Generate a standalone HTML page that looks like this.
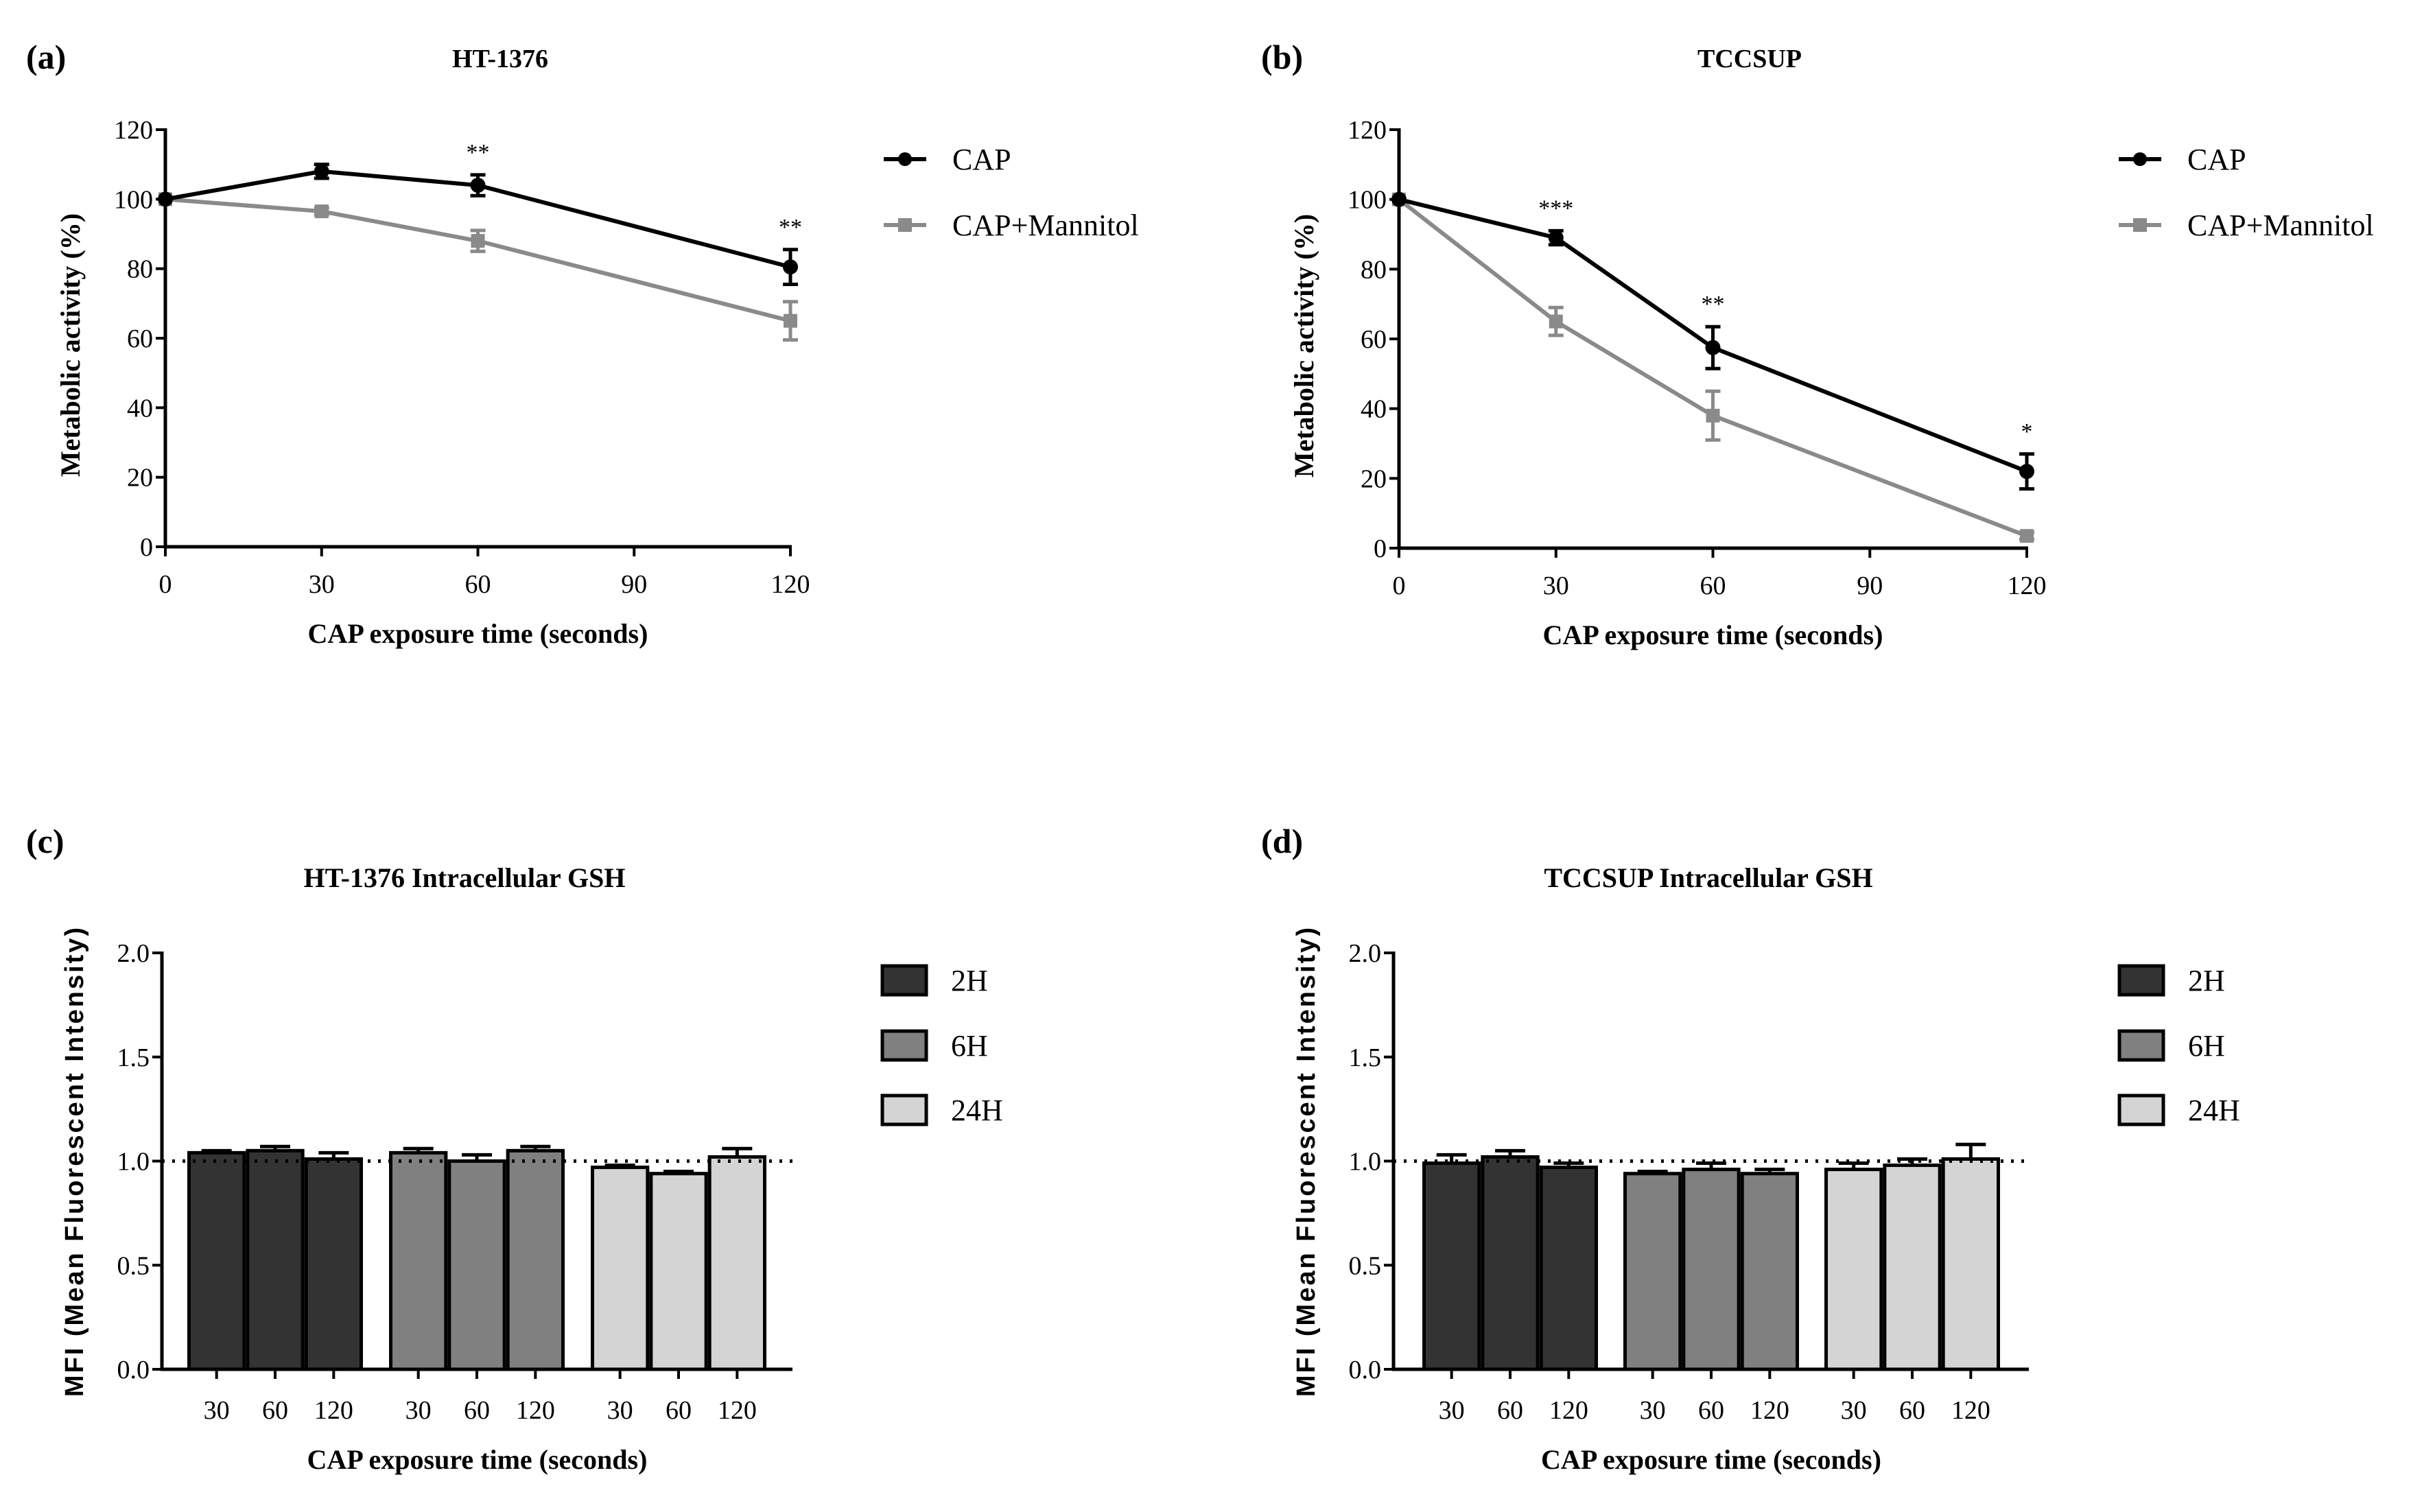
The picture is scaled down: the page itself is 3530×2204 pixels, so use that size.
<!DOCTYPE html>
<html><head><meta charset="utf-8"><style>
html,body{margin:0;padding:0;background:#fff}
svg{display:block}
text{font-family:"Liberation Serif",serif;fill:#000}
.sans{font-family:"Liberation Sans",sans-serif}
</style></head><body>
<svg id="fig" width="3530" height="2204" viewBox="0 0 3530 2204" xmlns="http://www.w3.org/2000/svg"></svg>
<script>
// ---- Line chart data ----
const lineX = [0, 30, 60, 120];
const xTicks = [0, 30, 60, 90, 120];
const yTicksLine = [0, 20, 40, 60, 80, 100, 120];
const aCap = [100, 108, 104, 80.5];
const aCapErr = [0, 2, 3, 5];
const aMan = [100, 96.5, 88, 65];
const aManErr = [0, 1, 3, 5.5];
const aStars = ["", "", "**", "**"];
const bCap = [100, 89, 57.5, 22];
const bCapErr = [0, 2, 6, 5];
const bMan = [100, 65, 38, 3.5];
const bManErr = [0, 4, 7, 1];
const bStars = ["", "***", "**", "*"];
// ---- Bar chart data ----
const barGroups = ["2H", "6H", "24H"];
const barCats = ["30", "60", "120"];
const yTicksBar = [0, 0.5, 1.0, 1.5, 2.0];
const c2H = [1.04, 1.05, 1.01], c2HErr = [0.01, 0.02, 0.03];
const c6H = [1.04, 1.00, 1.05], c6HErr = [0.02, 0.03, 0.02];
const c24H = [0.97, 0.94, 1.02], c24HErr = [0.01, 0.01, 0.04];
const d2H = [0.99, 1.02, 0.97], d2HErr = [0.04, 0.03, 0.02];
const d6H = [0.94, 0.96, 0.94], d6HErr = [0.01, 0.03, 0.02];
const d24H = [0.96, 0.98, 1.01], d24HErr = [0.03, 0.03, 0.07];

const NS = "http://www.w3.org/2000/svg";
const svg = document.getElementById("fig");
function el(tag, attrs, parent, txt) {
  const e = document.createElementNS(NS, tag);
  for (const k in attrs) e.setAttribute(k, attrs[k]);
  if (txt !== undefined) e.textContent = txt;
  (parent || svg).appendChild(e);
  return e;
}

function lineChart(o) {
  const g = el("g", {});
  
  
  const X = v => o.x0 + (v - 0) / 120 * (o.x1 - o.x0);
  const Y = v => o.y0 - v / 120 * (o.y0 - o.y1);
  let t = el("text", {x: o.labX, y: 100, "font-size": 50, "font-weight": "bold"}, g, o.letter);
  
  
  t = el("text", {x: o.titleX, y: 98, "font-size": 38, "font-weight": "bold", "text-anchor": "middle"}, g, o.title);
  
  
  // axes
  el("line", {x1: o.x0, y1: o.y0, x2: o.x0, y2: o.y1 - 2, stroke: "#000", "stroke-width": 5}, g);
  el("line", {x1: o.x0 - 2, y1: o.y0, x2: o.x1 + 2, y2: o.y0, stroke: "#000", "stroke-width": 5}, g);
  yTicksLine.forEach(v => {
    el("line", {x1: o.x0 - 14, y1: Y(v), x2: o.x0, y2: Y(v), stroke: "#000", "stroke-width": 4}, g);
    const tt = el("text", {x: o.x0 - 18, y: Y(v) + 13, "font-size": 38, "text-anchor": "end"}, g, v);
    
    
  });
  xTicks.forEach(v => {
    el("line", {x1: X(v), y1: o.y0, x2: X(v), y2: o.y0 + 14, stroke: "#000", "stroke-width": 4}, g);
    const tt = el("text", {x: X(v), y: o.y0 + 67, "font-size": 38, "text-anchor": "middle"}, g, v);
    
    
  });
  t = el("text", {x: (o.x0 + o.x1) / 2, y: o.y0 + 140, "font-size": 40, "font-weight": "bold", "text-anchor": "middle"}, g, "CAP exposure time (seconds)");
  
  
  t = el("text", {x: 0, y: 0, "font-size": 40, "font-weight": "bold", "text-anchor": "middle", transform: `translate(${o.x0 - 125},${(o.y0 + o.y1) / 2 + 10}) rotate(-90)`}, g, "Metabolic activity (%)");
  
  
  const series = [
    {v: o.man, e: o.manErr, c: "#8a8a8a", sq: true, n: "series-cap-mannitol"},
    {v: o.cap, e: o.capErr, c: "#000", sq: false, n: "series-cap"}
  ];
  series.forEach(s => {
    const sg = el("g", {}, g);
    
    
    el("polyline", {points: lineX.map((x, i) => X(x) + "," + Y(s.v[i])).join(" "), fill: "none", stroke: s.c, "stroke-width": 6}, sg);
    lineX.forEach((x, i) => {
      if (s.e[i] > 0) {
        el("line", {x1: X(x), y1: Y(s.v[i] + s.e[i]), x2: X(x), y2: Y(s.v[i] - s.e[i]), stroke: s.c, "stroke-width": 5}, sg);
        [s.v[i] + s.e[i], s.v[i] - s.e[i]].forEach(w => el("line", {x1: X(x) - 11, y1: Y(w), x2: X(x) + 11, y2: Y(w), stroke: s.c, "stroke-width": 5}, sg));
      }
      const m = s.sq ? el("rect", {x: X(x) - 10, y: Y(s.v[i]) - 10, width: 20, height: 20, fill: s.c}, sg)
                     : el("circle", {cx: X(x), cy: Y(s.v[i]), r: 11, fill: s.c}, sg);
      
      
    });
  });
  lineX.forEach((x, i) => {
    if (o.stars[i]) {
      const top = Math.max(o.cap[i] + o.capErr[i], o.man[i] + o.manErr[i]);
      const st = el("text", {x: X(x), y: Y(top) - 22, "font-size": 34, "text-anchor": "middle"}, g, o.stars[i]);
      
      
    }
  });
  // legend
  const lg = el("g", {}, g);
  
  
  [["CAP", "#000", false, 232], ["CAP+Mannitol", "#8a8a8a", true, 328]].forEach(L => {
    const eg = el("g", {}, lg);
    
    
    el("line", {x1: o.legX, y1: L[3], x2: o.legX + 62, y2: L[3], stroke: L[1], "stroke-width": 6}, eg);
    if (L[2]) el("rect", {x: o.legX + 21, y: L[3] - 10, width: 20, height: 20, fill: L[1]}, eg);
    else el("circle", {cx: o.legX + 31, cy: L[3], r: 10, fill: L[1]}, eg);
    el("text", {x: o.legX + 100, y: L[3] + 15, "font-size": 44}, eg, L[0]);
  });
}

function barChart(o) {
  const g = el("g", {});
  
  
  const Y = v => o.y0 - v / 2 * (o.y0 - o.y1);
  let t = el("text", {x: o.labX, y: 1243, "font-size": 50, "font-weight": "bold"}, g, o.letter);
  
  
  t = el("text", {x: o.titleX, y: 1293, "font-size": 40, "font-weight": "bold", "text-anchor": "middle"}, g, o.title);
  
  
  const fills = ["#333333", "#808080", "#d4d4d4"];
  const bw = (o.gx[0][1] - o.gx[0][0]) / 3;
  o.vals.forEach((vals, gi) => {
    const gg = el("g", {}, g);
    
    
    vals.forEach((v, i) => {
      const x = o.gx[gi][0] + i * bw;
      const cx = x + bw / 2;
      const e = o.errs[gi][i];
      el("line", {x1: cx, y1: Y(v), x2: cx, y2: Y(v + e), stroke: "#000", "stroke-width": 5}, gg);
      el("line", {x1: cx - 22, y1: Y(v + e), x2: cx + 22, y2: Y(v + e), stroke: "#000", "stroke-width": 5}, gg);
      const r = el("rect", {x: x + 2.5, y: Y(v), width: bw - 5, height: Y(0) - Y(v), fill: fills[gi], stroke: "#000", "stroke-width": 5}, gg);
      
      
      el("line", {x1: cx, y1: o.y0, x2: cx, y2: o.y0 + 14, stroke: "#000", "stroke-width": 4}, gg);
      const tl = el("text", {x: cx, y: o.y0 + 72, "font-size": 38, "text-anchor": "middle"}, gg, barCats[i]);
      
      
    });
  });
  const ref = el("line", {x1: o.x0, y1: Y(1), x2: o.x1, y2: Y(1), stroke: "#000", "stroke-width": 5, "stroke-dasharray": "4 11"}, g);
  
  
  el("line", {x1: o.x0, y1: o.y0, x2: o.x0, y2: o.y1 - 2, stroke: "#000", "stroke-width": 5}, g);
  el("line", {x1: o.x0 - 2, y1: o.y0, x2: o.x1, y2: o.y0, stroke: "#000", "stroke-width": 5}, g);
  yTicksBar.forEach(v => {
    el("line", {x1: o.x0 - 14, y1: Y(v), x2: o.x0, y2: Y(v), stroke: "#000", "stroke-width": 4}, g);
    const tt = el("text", {x: o.x0 - 18, y: Y(v) + 13, "font-size": 38, "text-anchor": "end"}, g, v.toFixed(1));
    
    
  });
  t = el("text", {x: (o.x0 + o.x1) / 2, y: o.y0 + 145, "font-size": 40, "font-weight": "bold", "text-anchor": "middle"}, g, "CAP exposure time (seconds)");
  
  
  t = el("text", {class: "sans", x: 0, y: 0, "font-size": 38, "font-weight": "bold", "text-anchor": "middle", "letter-spacing": 3, transform: `translate(${o.x0 - 115},${(o.y0 + o.y1) / 2}) rotate(-90)`}, g, "MFI (Mean Fluorescent Intensity)");
  
  
  const lg = el("g", {}, g);
  
  
  [1429, 1524, 1618].forEach((y, i) => {
    const eg = el("g", {}, lg);
    
    
    el("rect", {x: o.legX + 3, y: y - 21, width: 64, height: 42, fill: fills[i], stroke: "#000", "stroke-width": 5}, eg);
    el("text", {x: o.legX + 103, y: y + 15, "font-size": 44}, eg, barGroups[i]);
  });
}

lineChart({name: "panel-a-ht1376", letter: "(a)", title: "HT-1376", labX: 38, titleX: 729,
  x0: 241, x1: 1152, y0: 797, y1: 189, legX: 1288,
  cap: aCap, capErr: aCapErr, man: aMan, manErr: aManErr, stars: aStars});
lineChart({name: "panel-b-tccsup", letter: "(b)", title: "TCCSUP", labX: 1838, titleX: 2550,
  x0: 2039, x1: 2954, y0: 799, y1: 189, legX: 3088,
  cap: bCap, capErr: bCapErr, man: bMan, manErr: bManErr, stars: bStars});
barChart({name: "panel-c-ht1376-gsh", letter: "(c)", title: "HT-1376 Intracellular GSH", labX: 38, titleX: 677,
  x0: 236, x1: 1155, y0: 1996, y1: 1389, legX: 1283,
  gx: [[273, 529], [567, 823], [861, 1117]],
  vals: [c2H, c6H, c24H], errs: [c2HErr, c6HErr, c24HErr]});
barChart({name: "panel-d-tccsup-gsh", letter: "(d)", title: "TCCSUP Intracellular GSH", labX: 1838, titleX: 2490,
  x0: 2031, x1: 2957, y0: 1996, y1: 1389, legX: 3086,
  gx: [[2073, 2329], [2366, 2622], [2659, 2915]],
  vals: [d2H, d6H, d24H], errs: [d2HErr, d6HErr, d24HErr]});
</script>
</body></html>
